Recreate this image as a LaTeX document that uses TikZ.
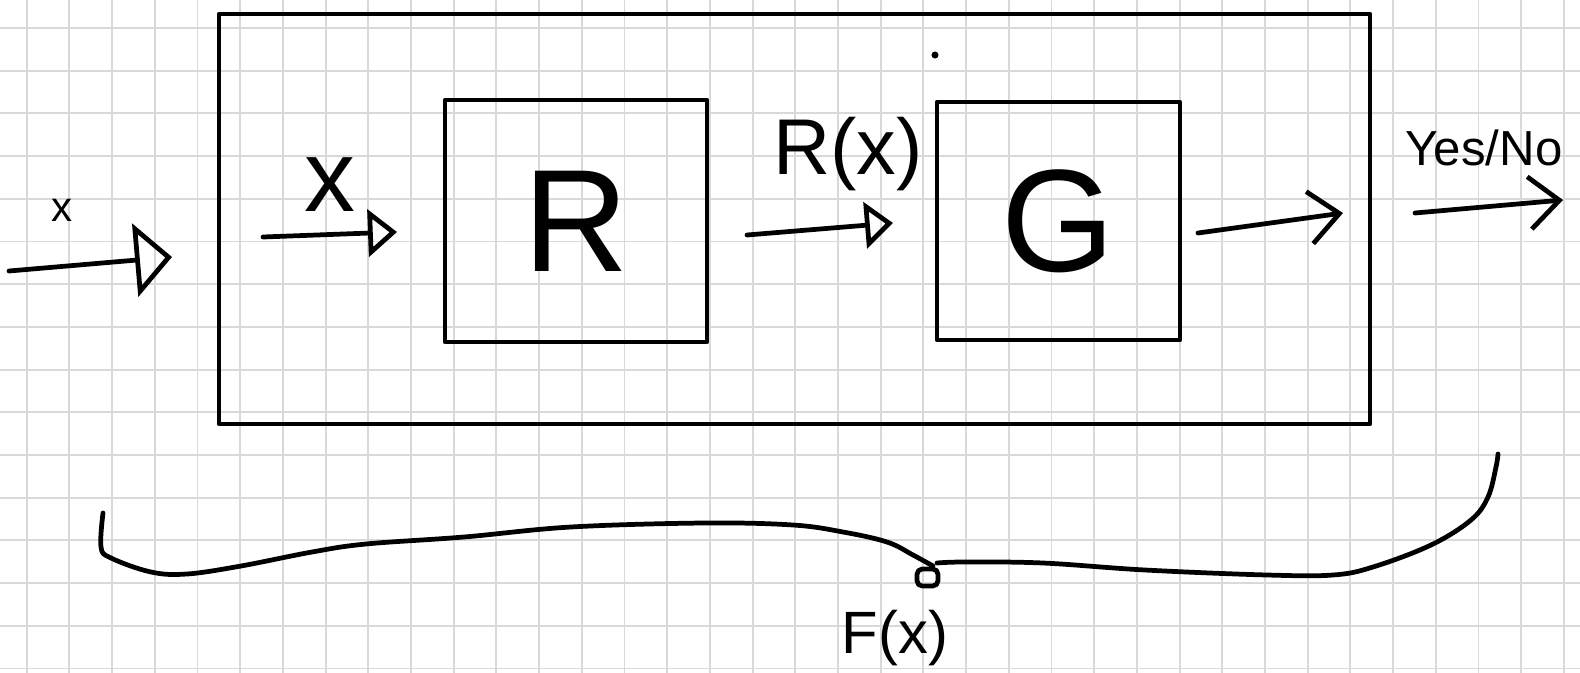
\documentclass[tikz,border=0pt]{standalone}
\usepackage{fontspec}
\setmainfont{Liberation Sans}
\usepackage{tikz}
\usetikzlibrary{arrows.meta}

\begin{document}
\begin{tikzpicture}[
    x=0.02cm, y=-0.02cm,
    pen/.style={line width=2.7pt, line cap=round, line join=round},
    gridline/.style={line width=1.1pt, draw=gray!30},
    box/.style={draw, pen, inner sep=0pt},
    barb/.style={pen, -{Straight Barb[length=0.6cm, width=1.05cm]}},
    big/.style={font=\fontsize{83}{83}\selectfont}
]
\fill[white] (0,0) rectangle (1580,673);
\useasboundingbox (0,0) rectangle (1580,673);
\foreach \i in {0,...,36}
    \draw[gridline] ({26.7+42.7*\i},0) -- ++(0,673);
\foreach \j in {0,...,15}
    \draw[gridline] (0,{28+42.7*\j}) -- ++(1580,0);

\node[box, minimum width=23.02cm, minimum height=8.2cm] (sys) at (794.5,219) {};
\node[box, big, minimum width=5.24cm, minimum height=4.84cm] (rbox) at (576,221) {R};
\node[box, big, minimum width=4.86cm, minimum height=4.76cm] (gbox) at (1058.5,221) {G};

\coordinate (in0) at (9,271);    \coordinate (in1) at (172,257);
\coordinate (xr0) at (263,237);  \coordinate (xr1) at (397,232);
\coordinate (rg0) at (747,235);  \coordinate (rg1) at (893,223);
\coordinate (go0) at (1198,233); \coordinate (go1) at (1343,213);
\coordinate (out0) at (1415,213); \coordinate (out1) at (1563,200);

\draw[pen, -{Triangle[open, length=0.74cm, width=1.46cm]}] (in0) -- (in1);
\draw[pen, -{Triangle[open, length=0.58cm, width=0.94cm]}] (xr0) -- (xr1);
\draw[pen, -{Triangle[open, length=0.56cm, width=0.92cm]}] (rg0) -- (rg1);
\draw[barb] (go0) -- (go1);
\draw[barb] (out0) -- (out1);

\node[font=\fontsize{24}{24}\selectfont] (xin) at (62,210) {x};
\node[font=\fontsize{58}{58}\selectfont] (xlab) at (330,185) {x};
\node[font=\fontsize{45}{45}\selectfont] (rxlab) at (848,154) {R(x)};
\node[font=\fontsize{28}{28}\selectfont] (yesno) at (1484,148) {Yes/No};
\fill (935,55) circle[radius=2pt];

\draw[pen] plot[smooth, tension=0.6] coordinates {(103,513) (101,547) (111,558) (151,572)
    (187,574) (241,566) (312,552) (366,544) (464,537) (571,527) (705,523) (793,525)
    (843,532) (887,542) (913,555) (933,566)};
\draw[pen, rounded corners=3pt] (917,569) rectangle (938,586);
\draw[pen] plot[smooth, tension=0.6] coordinates {(937,563) (965,562) (1043,563)
    (1145,570) (1267,575) (1333,575) (1373,567) (1431,545) (1471,520) (1488,497)
    (1496,467) (1498,454)};
\node[font=\fontsize{34}{34}\selectfont] (fx) at (895,638) {F(x)};
\end{tikzpicture}
\end{document}
